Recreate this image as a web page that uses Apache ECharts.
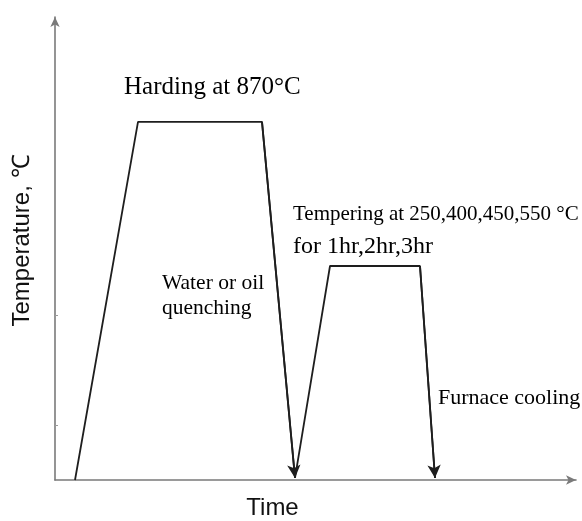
<!DOCTYPE html>
<html>
<head>
<meta charset="utf-8">
<script src="https://cdn.jsdelivr.net/npm/echarts@6/dist/echarts.min.js"></script>
<style>html,body{margin:0;padding:0;background:#fff}#c{width:582px;height:521px}</style>
</head>
<body>
<div id="c"></div>
<script>
// Hardening cycle: [time, temperature]
const hardeningTime = [20, 83, 207, 240];
const hardeningTemp = [0, 870, 870, 5];
// Tempering cycle
const temperingTime = [240, 275, 365, 380];
const temperingTemp = [5, 520, 520, 5];
// Y-axis tick marks (temperature)
const yTicks = [134, 401];
const axisNames = { x: 'Time', y: 'Temperature, ℃' };
const notes = {
  harden: 'Harding at 870°C',
  temper1: 'Tempering at 250,400,450,550 °C',
  temper2: 'for 1hr,2hr,3hr',
  quench1: 'Water or oil',
  quench2: 'quenching',
  furnace: 'Furnace cooling'
};

const zip = (a, b) => a.map((v, i) => [v, b[i]]);
const hard = zip(hardeningTime, hardeningTemp);
const temp = zip(temperingTime, temperingTemp);
const lineColor = '#1e1e1e';
const serif = '"Liberation Serif", "Times New Roman", serif';

const chart = echarts.init(document.getElementById('c'), null, { renderer: 'canvas' });
chart.setOption({
  animation: false,
  backgroundColor: '#fff',
  grid: { left: 55, right: 6, top: 17, bottom: 41, containLabel: false, outerBoundsMode: 'none' },
  xAxis: {
    type: 'value', min: 0, max: 521,
    name: axisNames.x, nameLocation: 'middle', nameGap: 16,
    nameTextStyle: { fontFamily: '"Liberation Sans", Arial, sans-serif', fontSize: 24, color: '#111', padding: [0, 86, 0, 0], verticalAlign: 'top' },
    axisLine: { show: true, symbol: ['none', 'arrow'], symbolSize: [7, 10], lineStyle: { color: '#7a7a7a', width: 1.6 } },
    axisTick: { show: false }, axisLabel: { show: false }, splitLine: { show: false }
  },
  yAxis: {
    type: 'value', min: 0, max: 1125,
    name: axisNames.y, nameLocation: 'middle', nameGap: 21,
    nameTextStyle: { fontFamily: '"Liberation Sans", Arial, sans-serif', fontSize: 24, color: '#111', padding: [0, 0, 0, 16] },
    axisLine: { show: true, symbol: ['none', 'arrow'], symbolSize: [7, 10], lineStyle: { color: '#7a7a7a', width: 1.6 } },
    axisTick: { show: true, inside: true, length: 3, customValues: yTicks, lineStyle: { color: '#9a9a9a', width: 1 } },
    axisLabel: { show: false }, splitLine: { show: false }
  },
  series: [
    {
      type: 'line', data: hard, symbol: 'none',
      lineStyle: { color: lineColor, width: 1.8 },
      markLine: {
        silent: true, symbol: ['none', 'arrow'], symbolSize: [10, 13],
        label: { show: false },
        lineStyle: { color: lineColor, width: 1.8, type: 'solid' },
        data: [[{ coord: hard[2] }, { coord: hard[3] }]]
      }
    },
    {
      type: 'line', data: temp, symbol: 'none',
      lineStyle: { color: lineColor, width: 1.8 },
      markLine: {
        silent: true, symbol: ['none', 'arrow'], symbolSize: [10, 13],
        label: { show: false },
        lineStyle: { color: lineColor, width: 1.8, type: 'solid' },
        data: [[{ coord: temp[2] }, { coord: temp[3] }]]
      }
    }
  ],
  graphic: [
    { type: 'text', left: 124, top: 75, style: { text: notes.harden, font: '25px ' + serif, fill: '#000' } },
    { type: 'text', left: 293, top: 204, style: { text: notes.temper1, font: '21px ' + serif, fill: '#000' } },
    { type: 'text', left: 293, top: 235, style: { text: notes.temper2, font: '24px ' + serif, fill: '#000' } },
    { type: 'text', left: 162, top: 272, style: { text: notes.quench1, font: '21.5px ' + serif, fill: '#000' } },
    { type: 'text', left: 162, top: 297, style: { text: notes.quench2, font: '21.5px ' + serif, fill: '#000' } },
    { type: 'text', left: 438, top: 387, style: { text: notes.furnace, font: '22px ' + serif, fill: '#000' } }
  ]
});
</script>
</body>
</html>
